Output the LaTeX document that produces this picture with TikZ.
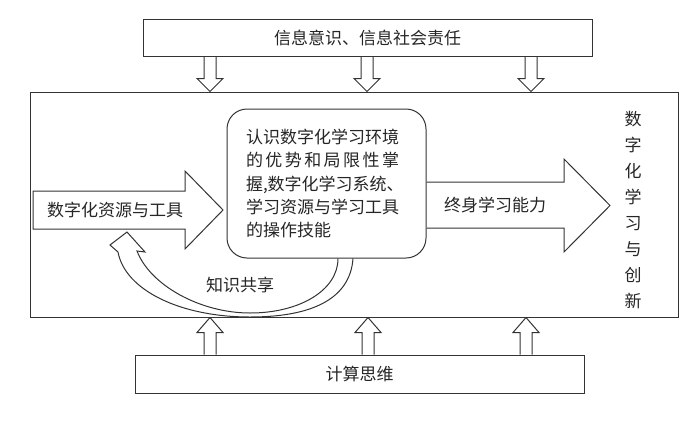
\documentclass[tikz,border=0pt]{standalone}
\usepackage{fontspec}
\setmainfont{Noto Sans CJK SC}
\usetikzlibrary{calc}
\tikzset{
  ln/.style={draw=black!80, line width=1pt, line join=miter},
  box/.style={ln, fill=white, inner sep=0pt},
  txt/.style={font=\fontsize{17}{17}\selectfont, text=black!85, inner sep=0pt},
}
\newcommand{\downblock}[3]{%
  \draw[ln] (#1-6,0 |- #2.south) -- ($(#1-6,0 |- #3.north)+(0,-13)$) -- ++(-7,0)
    -- (#1,0 |- #3.north) -- ($(#1+13,0 |- #3.north)+(0,-13)$) -- ++(-7,0) -- (#1+6,0 |- #2.south);}
\newcommand{\upblock}[3]{%
  \draw[ln] (#1-6,0 |- #2.north) -- ($(#1-6,0 |- #3.south)+(0,15)$) -- ++(-7,0)
    -- (#1,0 |- #3.south) -- ($(#1+13,0 |- #3.south)+(0,15)$) -- ++(-7,0) -- (#1+6,0 |- #2.north);}
\begin{document}
\begin{tikzpicture}[x=1pt,y=-1pt]
\useasboundingbox (0,0) rectangle (693,424);
\node[box, txt, minimum width=449pt, minimum height=37pt] (top) at (367.5,37.5) {信息意识、信息社会责任};
\node[box, minimum width=648pt, minimum height=225pt] (frame) at (354,204.5) {};
\node[box, txt, minimum width=449pt, minimum height=38pt] (bot) at (359.5,374) {计算思维};
\foreach \ax in {210,367,531} {\downblock{\ax}{top}{frame}}
\foreach \ax in {210,368,526} {\upblock{\ax}{bot}{frame}}

\node[box, txt, rounded corners=20pt, minimum width=199pt, minimum height=149pt,
  font=\fontsize{17}{23.3}\selectfont, text width=161pt, align=left] (core) at (326.5,183.5)
  {认识数字化学习环境\\
   \makebox[153pt][s]{的\hfil 优\hfil 势\hfil 和\hfil 局\hfil 限\hfil 性\hfil 掌}\\
   握,数字化学习系统、\\
   学习资源与学习工具\\
   的操作技能};

\draw[ln] (33,191) -- (185,191) -- (185,171) -- (223,210) -- (185,249) -- (185,229) -- (33,229) -- cycle;
\node[txt] (res) at (115,210) {数字化资源与工具};

\draw[ln] (core.east |- 0,182) -- (564,182) -- (564,159) -- (610,205.5) -- (564,252) -- (564,228) -- (core.east |- 0,228);
\node[txt] (life) at (495,205) {终身学习能力};

\draw[ln] (353,0 |- core.south) .. controls (350,300) and (310,317) .. (250,317)
  .. controls (180,317) and (125,290) .. (118,252) -- (110,245) -- (127,232) -- (145,252) -- (137,251)
  .. controls (150,285) and (200,313) .. (250,313) .. controls (300,313) and (338,290) .. (338,0 |- core.south);
\node[txt] (share) at (240,285) {知识共享};

\node[txt, font=\fontsize{17}{26}\selectfont, align=center] (title) at (633,210) {数\\字\\化\\学\\习\\与\\创\\新};
\end{tikzpicture}
\end{document}
